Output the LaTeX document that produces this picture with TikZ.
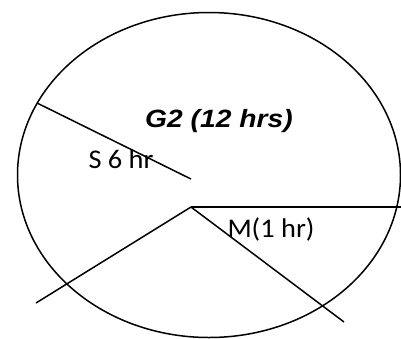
\documentclass[tikz,border=0pt]{standalone}
\usepackage{fontspec}
\setmainfont{Carlito}
\newfontfamily\arialfont{Liberation Sans}
\begin{document}
\begin{tikzpicture}[x=1pt,y=-1pt,
  ln/.style={line width=1.5pt,black},
  lbl/.style={inner sep=0pt,anchor=base,xscale=1.05,font=\fontsize{27}{30}\selectfont},
  ttl/.style={inner sep=0pt,anchor=base,xscale=1.13,font=\arialfont\bfseries\itshape\fontsize{25}{28}\selectfont}]
\useasboundingbox (0,0) rectangle (401,338);
\draw[ln] (209,175) ellipse [x radius=191.5, y radius=162.5];
\coordinate (c) at (191,207);
\coordinate (s1) at (37,103);
\coordinate (s2) at (191,179);
\coordinate (r) at (401,207);
\coordinate (ll) at (36,303);
\coordinate (lr) at (344,322);
\draw[ln] (s1) -- (s2);
\draw[ln] (c) -- (r);
\draw[ln] (c) -- (ll);
\draw[ln] (c) -- (lr);
\node[ttl] (g2) at (219,127) {G2 (12 hrs)};
\node[lbl] (s6) at (121,168) {S 6 hr};
\node[lbl] (m1) at (271,237) {M(1 hr)};
\end{tikzpicture}
\end{document}
